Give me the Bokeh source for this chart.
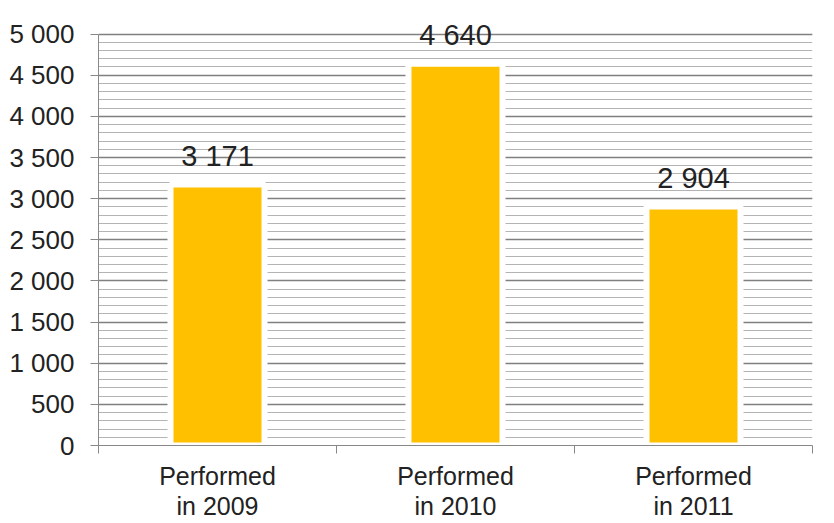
from bokeh.plotting import figure
from bokeh.models import FixedTicker, ColumnDataSource, Label, Range1d
from bokeh.embed import file_html
from bokeh.resources import INLINE

categories = ["Performed\nin 2009", "Performed\nin 2010", "Performed\nin 2011"]
values = [3171, 4640, 2904]
value_labels = ["3 171", "4 640", "2 904"]
y_ticks = [0, 500, 1000, 1500, 2000, 2500, 3000, 3500, 4000, 4500, 5000]
y_tick_labels = ["0", "500", "1 000", "1 500", "2 000", "2 500", "3 000", "3 500", "4 000", "4 500", "5 000"]
y_minor = list(range(0, 5001, 100))

FONT = "Liberation Sans"
xs = [i + 0.5 for i in range(len(categories))]

p = figure(width=834, height=523, output_backend="svg", toolbar_location=None,
           x_range=Range1d(0, len(categories)), y_range=Range1d(0, 5250),
           min_border_left=98, min_border_right=22, min_border_top=13, min_border_bottom=72)
p.outline_line_color = None
p.background_fill_color = "white"
p.border_fill_color = "white"

src = ColumnDataSource(dict(x=xs, top=values))
p.vbar(x="x", top="top", width=0.395, bottom=0, source=src,
       fill_color="#FFC000", line_color="white", line_width=6)

for x, v, lab in zip(xs, values, value_labels):
    p.add_layout(Label(x=x, y=v, text=lab, y_offset=29,
                       text_align="center", text_baseline="middle",
                       text_font=FONT, text_font_size="29px", text_color="#222222"))

# y axis
p.yaxis.ticker = FixedTicker(ticks=y_ticks, minor_ticks=y_minor)
p.yaxis.bounds = (0, 5000)
p.yaxis.major_label_overrides = {t: l for t, l in zip(y_ticks, y_tick_labels)}
p.yaxis.major_label_text_font = FONT
p.yaxis.major_label_text_font_size = "26px"
p.yaxis.major_label_text_color = "#222222"
p.yaxis.major_tick_out = 8
p.yaxis.major_tick_in = 0
p.yaxis.minor_tick_out = 0
p.yaxis.minor_tick_in = 0
p.yaxis.major_label_standoff = 16
p.yaxis.axis_line_color = "#888888"
p.yaxis.major_tick_line_color = "#888888"

# x axis
p.xaxis.ticker = FixedTicker(ticks=xs, minor_ticks=list(range(len(categories) + 1)))
p.xaxis.major_label_overrides = {x: c for x, c in zip(xs, categories)}
p.xaxis.major_label_text_font = FONT
p.xaxis.major_label_text_font_size = "25px"
p.xaxis.major_label_text_color = "#222222"
p.xaxis.major_label_text_line_height = 1.1
p.xaxis.major_tick_out = 0
p.xaxis.major_tick_in = 0
p.xaxis.minor_tick_out = 8
p.xaxis.minor_tick_in = 0
p.xaxis.minor_tick_line_color = "#888888"
p.xaxis.major_label_standoff = 8
p.xaxis.axis_line_color = "#888888"

# grids
p.xgrid.grid_line_color = None
p.ygrid.ticker = FixedTicker(ticks=y_ticks, minor_ticks=y_minor)
p.ygrid.grid_line_color = "#808080"
p.ygrid.grid_line_width = 1.5
p.ygrid.minor_grid_line_color = "#b4b4b4"
p.ygrid.minor_grid_line_width = 1.2
p.ygrid.level = "underlay"

open("out.html", "w").write(file_html(p, INLINE))
